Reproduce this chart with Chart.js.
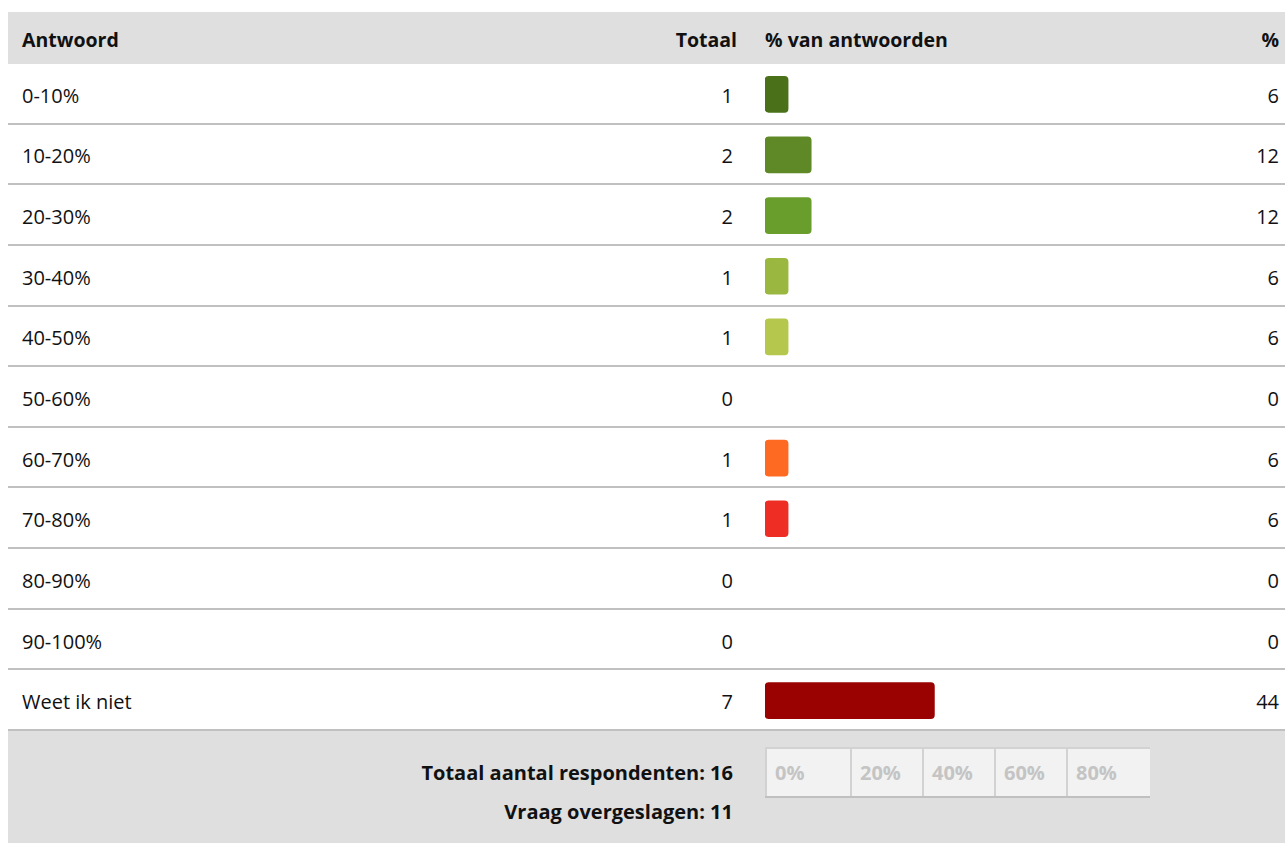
<!DOCTYPE html>
<html>
<head>
<meta charset="utf-8">
<script src="https://cdn.jsdelivr.net/npm/chart.js@4.4.1/dist/chart.umd.min.js"></script>
<style>
  html, body { margin: 0; padding: 0; background: #fff; }
  body { width: 1285px; height: 843px; overflow: hidden; position: relative;
         font-family: "Open Sans", sans-serif; color: #111; }
  #wrap { position: absolute; left: 8px; top: 12px; width: 1290px; height: 840px; }
  .band { position: absolute; left: 0; width: 100%; background: #dfdfdf; }
  .row { position: absolute; left: 0; width: 100%; border-bottom: 2px solid #c0c0c0; box-sizing: border-box; }
  .cell { position: absolute; top: 0; height: 100%; display: flex; align-items: center; font-size: 20px; white-space: nowrap; }
  .row .cell { padding-top: 4px; box-sizing: border-box; }
  .head .cell { font-weight: bold; font-size: 19.5px; padding-top: 2px; box-sizing: border-box; }
  .right { justify-content: flex-end; }
  #chartBox { position: absolute; left: 757px; top: 52px; width: 385px; height: 667px; }
  #scale { position: absolute; left: 757px; top: 735px; height: 49px; display: flex;
           border-bottom: 2px solid #c0c0c0; }
  #scale div { background: #f2f2f2; border-left: 2px solid #d2d2d2; border-top: 2px solid #d2d2d2;
               box-sizing: border-box; height: 49px; padding-left: 8px; display: flex; align-items: center;
               font-weight: bold; font-size: 20px; color: #c4c4c4; }
  .foot { position: absolute; left: 0; width: 725px; text-align: right; font-weight: bold; font-size: 20px; }
</style>
</head>
<body>
<div id="wrap">
  <div class="band head" style="top:0; height:52px;">
    <div class="cell" style="left:14px;">Antwoord</div>
    <div class="cell right" style="left:0; width:729px;">Totaal</div>
    <div class="cell" style="left:757px;">% van antwoorden</div>
    <div class="cell right" style="left:0; width:1271px;">%</div>
  </div>
  <div id="rows"></div>
  <div class="band" style="top:719px; height:130px;"></div>
  <div class="foot" style="top:747px;">Totaal aantal respondenten: 16</div>
  <div class="foot" style="top:786px;">Vraag overgeslagen: 11</div>
  <div id="scale"></div>
  <div id="chartBox"><canvas id="barChart"></canvas></div>
</div>

<script>
const answers = ['0-10%', '10-20%', '20-30%', '30-40%', '40-50%', '50-60%', '60-70%', '70-80%', '80-90%', '90-100%', 'Weet ik niet'];
const totals = [1, 2, 2, 1, 1, 0, 1, 1, 0, 0, 7];
const percents = [6, 12, 12, 6, 6, 0, 6, 6, 0, 0, 44];
const barColors = ['#4a7119', '#5f8926', '#699e2d', '#9ab840', '#b5c74c', '#d9d94f', '#ff6a22', '#ee2e24', '#cc1a14', '#b00c08', '#990200'];
const scaleTicks = ['0%', '20%', '40%', '60%', '80%'];
const scaleWidths = [85, 72, 72, 72, 84];

const ROW_H = 667 / answers.length;

// table rows: answer, total and percentage as text
const rowsEl = document.getElementById('rows');
answers.forEach((a, i) => {
    const r = document.createElement('div');
    r.className = 'row';
    r.style.top = (52 + i * ROW_H) + 'px';
    r.style.height = ROW_H + 'px';
    r.innerHTML =
        '<div class="cell" style="left:14px;">' + a + '</div>' +
        '<div class="cell right" style="left:0; width:725px;">' + totals[i] + '</div>' +
        '<div class="cell right" style="left:0; width:1271px;">' + percents[i] + '</div>';
    rowsEl.appendChild(r);
});

// percentage scale under the bars
const scaleEl = document.getElementById('scale');
scaleTicks.forEach((t, i) => {
    const d = document.createElement('div');
    d.style.width = scaleWidths[i] + 'px';
    d.textContent = t;
    scaleEl.appendChild(d);
});

const CHART = document.getElementById('barChart');

let barChart = new Chart(CHART, {
    type: 'bar',
    data: {
        labels: answers,
        datasets: [
            {
                // empty answers get no bar at all
                data: percents.map(v => v === 0 ? null : v),
                backgroundColor: barColors,
                borderWidth: 0,
                borderRadius: 4,
                borderSkipped: false,
                barThickness: 36,
            }
        ]
    },
    options: {
        indexAxis: 'y',
        responsive: true,
        maintainAspectRatio: false,
        animation: false,
        layout: { padding: 0 },
        plugins: {
            legend: { display: false },
            tooltip: { enabled: false }
        },
        scales: {
            x: { display: false, min: 0, max: 100 },
            y: { display: false }
        }
    }
});
</script>
</body>
</html>
